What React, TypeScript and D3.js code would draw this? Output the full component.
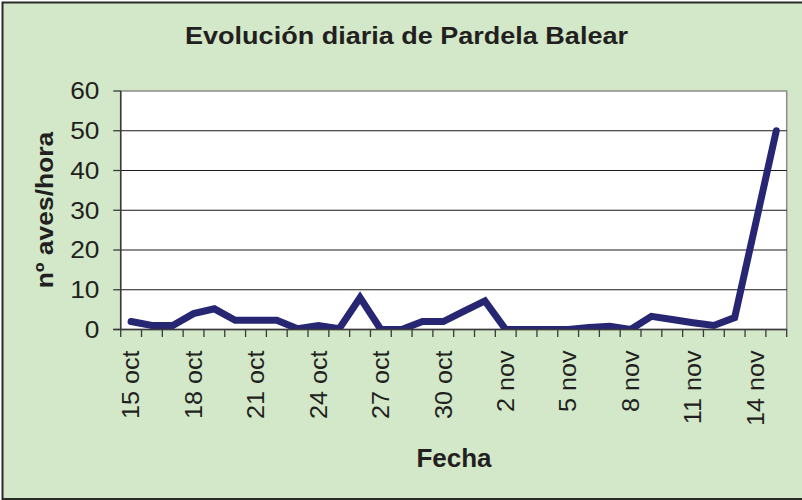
import React from "react";
import * as d3 from "d3";

const categories = [
  "15 oct", "16 oct", "17 oct", "18 oct", "19 oct", "20 oct", "21 oct", "22 oct",
  "23 oct", "24 oct", "25 oct", "26 oct", "27 oct", "28 oct", "29 oct", "30 oct",
  "31 oct", "1 nov", "2 nov", "3 nov", "4 nov", "5 nov", "6 nov", "7 nov",
  "8 nov", "9 nov", "10 nov", "11 nov", "12 nov", "13 nov", "14 nov", "15 nov",
];
const values = [
  2, 1, 1, 4, 5.2, 2.3, 2.3, 2.3,
  0.2, 1, 0.2, 8, 0, 0, 2, 2,
  4.6, 7.2, 0, 0, 0, 0, 0.5, 0.8,
  0, 3.3, 2.5, 1.7, 1, 3, 26.5, 50,
];
const tickLabels = ["15 oct", "18 oct", "21 oct", "24 oct", "27 oct", "30 oct", "2 nov", "5 nov", "8 nov", "11 nov", "14 nov"];
const yTicks = [0, 10, 20, 30, 40, 50, 60];
const title = "Evolución diaria de Pardela Balear";
const yTitle = "nº aves/hora";
const xTitle = "Fecha";

const W = 802;
const H = 500;
const L = 120.7, R = 786.7, T = 91, B = 329.5;
const FONT = "'Liberation Sans', Arial, Helvetica, sans-serif";
const TXT = "#231f20";

export default function App() {
  const x = d3.scaleBand<string>().domain(categories).range([L, R]).paddingInner(0).paddingOuter(0);
  const y = d3.scaleLinear().domain([0, 60]).range([B, T]);
  const cx = (c: string) => (x(c) as number) + x.bandwidth() / 2;
  const line = d3.line<number>().x((_, i) => cx(categories[i])).y((v) => y(v));
  const boundaries = d3.range(categories.length + 1).map((i) => L + i * x.step());

  return (
    <svg width={W} height={H} style={{ position: "absolute", left: 0, top: 0 }} fontFamily={FONT}>
      <defs>
        <clipPath id="plotclip">
          <rect x={L} y={T - 10} width={R - L} height={B - T + 10} />
        </clipPath>
      </defs>
      <rect x={0} y={0} width={W} height={H} fill="#ffffff" />
      <rect x={2.5} y={2.5} width={W + 5} height={496.5} fill="#d2e8c9" stroke="#2a2a2a" strokeWidth={2} />
      {/* plot area */}
      <rect x={L} y={T} width={R - L} height={B - T} fill="#ffffff" stroke="#8c8c8c" strokeWidth={1.5} />
      {/* gridlines */}
      {yTicks.filter((t) => t > 0 && t < 60).map((t) => (
        <line key={"g" + t} x1={L} x2={R} y1={y(t)} y2={y(t)} stroke="#1a1a1a" strokeWidth={1} />
      ))}
      {/* data line */}
      <path d={line(values) || ""} fill="none" stroke="#262673" strokeWidth={7} strokeLinejoin="miter" strokeMiterlimit={3} strokeLinecap="round" clipPath="url(#plotclip)" />
      {/* axes */}
      <line x1={L} x2={L} y1={T} y2={B} stroke="#3a3a3a" strokeWidth={1.5} />
      <line x1={L - 7.5} x2={R} y1={B} y2={B} stroke="#3a3a3a" strokeWidth={1.5} />
      {yTicks.map((t) => (
        <line key={"yt" + t} x1={L - 7.5} x2={L} y1={y(t)} y2={y(t)} stroke="#3a3a3a" strokeWidth={1.3} />
      ))}
      {boundaries.map((bx, i) => (
        <line key={"xt" + i} x1={bx} x2={bx} y1={B} y2={B + 7.5} stroke="#3a3a3a" strokeWidth={1.3} />
      ))}
      {/* y tick labels */}
      {yTicks.map((t) => (
        <text key={"yl" + t} transform={`translate(99.5,${y(t) + 8.3}) scale(1.13,1)`} textAnchor="end" fontSize={23.3} fill={TXT}>
          {t}
        </text>
      ))}
      {/* x tick labels */}
      {tickLabels.map((c) => (
        <text key={"xl" + c} transform={`translate(${cx(c) + 8.3},350.5) rotate(-90) scale(1.08,1)`} textAnchor="end" fontSize={23.3} fill={TXT}>
          {c}
        </text>
      ))}
      {/* titles */}
      <text transform="translate(406.5,44.3) scale(1.15,1)" textAnchor="middle" fontSize={23.5} fontWeight="bold" fill={TXT}>
        {title}
      </text>
      <text transform="translate(52.5,210) rotate(-90) scale(1.08,1)" textAnchor="middle" fontSize={24.5} fontWeight="bold" fill={TXT}>
        {yTitle}
      </text>
      <text x={454} y={466.5} textAnchor="middle" fontSize={26} fontWeight="bold" fill={TXT}>
        {xTitle}
      </text>
    </svg>
  );
}
